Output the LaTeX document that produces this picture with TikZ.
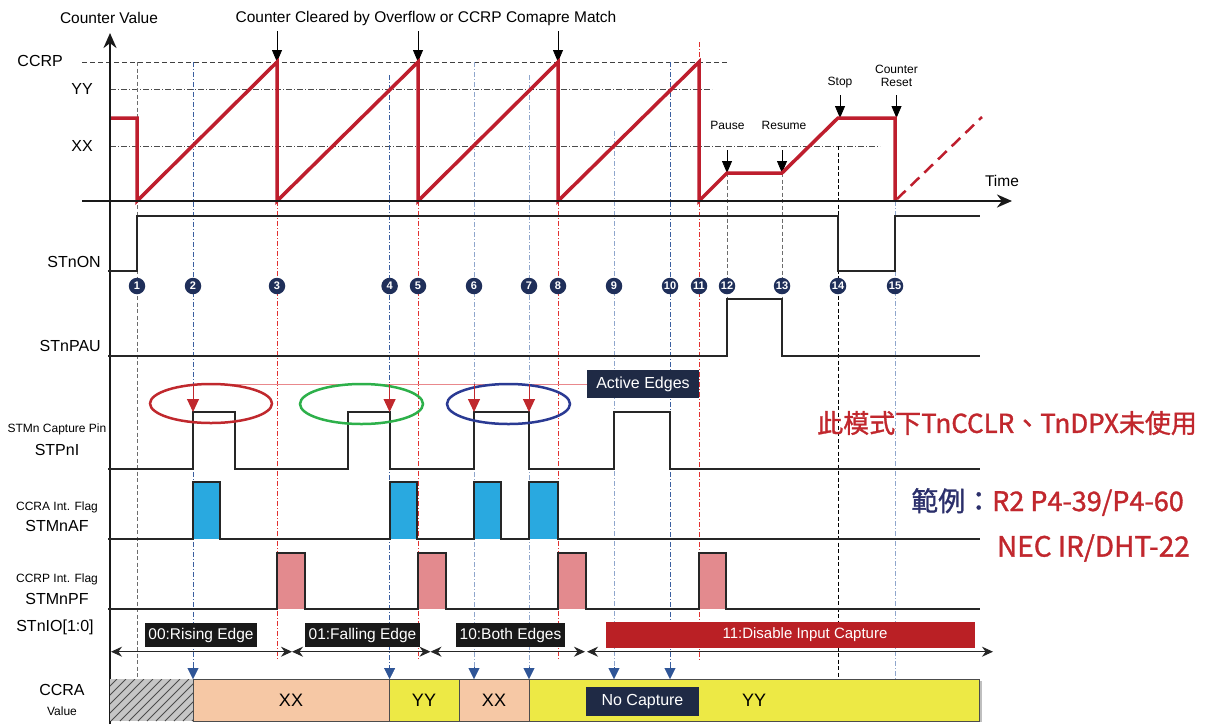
\documentclass[tikz,border=0pt]{standalone}
\usepackage{fontspec}
\setmainfont{Liberation Sans}
\newfontfamily\cjk{Noto Sans CJK TC}[FakeBold=1.2]
\usetikzlibrary{arrows.meta}
\definecolor{wred}{HTML}{BE1E2D}
\definecolor{dred}{HTML}{C1272D}
\definecolor{navyc}{HTML}{1F2F5A}
\definecolor{navyt}{HTML}{2B2F6B}
\definecolor{boxd}{HTML}{1F2A45}
\definecolor{bluef}{HTML}{29A9E0}
\definecolor{pinkf}{HTML}{E38A8E}
\definecolor{salm}{HTML}{F6C8A5}
\definecolor{yell}{HTML}{EDE945}
\definecolor{evbluec}{HTML}{3A5FA0}
\definecolor{evlblue}{HTML}{8FA6CC}
\definecolor{evredc}{HTML}{E0302F}
\definecolor{ellr}{HTML}{C0282D}
\definecolor{ellg}{HTML}{2DB04A}
\definecolor{ellb}{HTML}{2A3A93}
\definecolor{pinkl}{HTML}{E9888C}
\definecolor{boxred}{HTML}{BA2025}
\definecolor{arrblue}{HTML}{2F5597}
\tikzset{
  wave/.style={line width=3.5pt, wred, line join=miter},
  sig/.style={line width=2pt, black!85},
  axisl/.style={line width=2.5pt, black!90, -{Stealth[length=15pt,width=13pt]}},
  evgray/.style={dash pattern=on 4pt off 2.5pt, gray!85!black, line width=0.8pt},
  evblue/.style={dash pattern=on 5pt off 2pt on 1pt off 2pt, evbluec, line width=0.8pt},
  evlb/.style={dash pattern=on 5pt off 2pt on 1pt off 2pt, evlblue, line width=0.9pt},
  evred/.style={dash pattern=on 5pt off 2pt on 1pt off 2pt, evredc, line width=0.8pt},
  evblk/.style={dash pattern=on 4pt off 2.5pt, black, line width=0.8pt},
  lvl/.style={dash pattern=on 6pt off 2pt on 1pt off 2pt, black!70, line width=0.8pt},
  numc/.style={circle, fill=navyc, text=white, inner sep=0pt, minimum size=16.5pt, font=\fontsize{11}{11}\selectfont\bfseries},
  big/.style={font=\fontsize{16}{18}\selectfont, inner sep=0pt},
  small/.style={font=\fontsize{12}{14}\selectfont, inner sep=0pt},
  toptxt/.style={font=\fontsize{15.5}{18}\selectfont, inner sep=0pt},
  darr/.style={line width=0.8pt, -{Triangle[length=12pt,width=10pt]}},
  barr/.style={-{Triangle[length=11pt,width=11pt]}, arrblue},
  rarr/.style={line width=1pt, ellr, -{Triangle[length=13pt,width=12pt]}},
  modebox/.style={fill=black!90, text=white, inner sep=0pt, font=\fontsize{15.5}{18}\selectfont},
  io/.style={line width=1pt, black!85, {Stealth[length=11pt,width=10pt]}-{Stealth[length=11pt,width=10pt]}},
  cell/.style={draw=black!70, line width=0.8pt},
}
\begin{document}
\begin{tikzpicture}[x=1pt,y=-1pt]
\useasboundingbox (0,0) rectangle (1208,724);
\fill[white] (0,0) rectangle (1208,724);

% ---- level lines
\draw[dash pattern=on 5pt off 3pt, black!75, line width=0.8pt] (82,62) -- (728,62);
\draw[lvl] (110,89) -- (712,89);
\draw[lvl] (110,146) -- (880,146);

% ---- event lines
\draw[evgray] (137,62) -- (137,679);
\draw[evblue] (193,62) -- (193,670);
\draw[evred] (277,201) -- (277,660);
\draw[evblue] (389.6,75) -- (389.6,670);
\draw[evred] (418,201) -- (418,660);
\draw[evlb] (474,62) -- (474,670);
\draw[evlb] (529,75) -- (529,670);
\draw[evred] (558,201) -- (558,660);
\draw[evlb] (614,131) -- (614,670);
\draw[evblue] (670,62) -- (670,670);
\draw[evred] (699,42) -- (699,660);
\draw[evgray] (727,173) -- (727,299);
\draw[evgray] (782,173) -- (782,299);
\draw[evblk] (838,146) -- (838,679);
\draw[evlb] (895,201) -- (895,679);

% ---- labels left
\node[big, anchor=east] (lccrp) at (63,61) {CCRP};
\node[big, anchor=east] (lyy) at (93,89) {YY};
\node[big, anchor=east] (lxx) at (93,146) {XX};
\node[big, anchor=east] (lon) at (101,262) {STnON};
\node[big, anchor=east] (lpau) at (101,346) {STnPAU};
\node[small] (lcap) at (57,429) {STMn Capture Pin};
\node[big] (lpi) at (57,450) {STPnI};
\node[small] (laf1) at (57,507) {CCRA Int. Flag};
\node[big] (laf) at (57,526) {STMnAF};
\node[small] (lpf1) at (57,579) {CCRP Int. Flag};
\node[big] (lpf) at (57,599) {STMnPF};
\node[big] (lio) at (55,627) {STnIO[1:0]};
\node[big] (lccra) at (62,690) {CCRA};
\node[small] (lval) at (62,711) {Value};

% ---- top texts
\node[toptxt] (tcv) at (109,18) {Counter Value};
\node[toptxt] (tcc) at (426,18) {Counter Cleared by Overflow or CCRP Comapre Match};
\foreach \x in {277,418,558} \draw[darr] (\x,31) -- (\x,62);
\node[toptxt] (ttime) at (1002,181) {Time};
\node[small] (tpause) at (727.5,125) {Pause};
\node[small] (tres) at (784,125) {Resume};
\node[small] (tstop) at (840,83) {Stop};
\node[small, align=center] (treset) at (896.5,76) {Counter\\[-1pt]Reset};
\draw[darr] (727,150) -- (727,173);
\draw[darr] (782,150) -- (782,173);
\draw[darr] (840,95) -- (840,118);
\draw[darr] (896.5,95) -- (896.5,118);

% ---- counter waveform
\draw[wave] (110,118) -- (137,118) -- (137,201) -- (277,62) -- (277,201) -- (418,62) -- (418,201) -- (558,62) -- (558,201) -- (699,62) -- (699,201) -- (727,173) -- (782,173) -- (838,118) -- (895,118) -- (895,201);
\draw[wred, line width=2.5pt, dash pattern=on 12pt off 7pt] (897,199) -- (982,117);

% ---- axes
\draw[axisl] (110,724) -- (110,33);
\draw[axisl] (82,201) -- (1012,201);

% ---- digital signals
\draw[sig] (108,271) -- (137,271) -- (137,216) -- (838,216) -- (838,271) -- (895,271) -- (895,216) -- (980,216);
\draw[sig] (108,355.7) -- (727,355.7) -- (727,299) -- (782,299) -- (782,355.7) -- (980,355.7);
\draw[sig] (108,469) -- (193,469) -- (193,412) -- (235,412) -- (235,469) -- (348,469) -- (348,412) -- (389.6,412) -- (389.6,469) -- (474,469) -- (474,412) -- (529,412) -- (529,469) -- (614,469) -- (614,412) -- (670,412) -- (670,469) -- (980,469);
% AF
\foreach \a/\b in {193/220,389.6/417,474/500.6,529/557.6}
  \fill[bluef] (\a,482) rectangle (\b,539);
\draw[sig] (108,539) -- (193,539) -- (193,482) -- (220,482) -- (220,539) -- (389.6,539) -- (389.6,482) -- (417,482) -- (417,539) -- (474,539) -- (474,482) -- (500.6,482) -- (500.6,539) -- (529,539) -- (529,482) -- (557.6,482) -- (557.6,539) -- (980,539);
% PF
\foreach \a/\b in {277/305.4,418/445.8,558/585.5,699/726}
  \fill[pinkf] (\a,553) rectangle (\b,608.7);
\draw[sig] (108,608.7) -- (277,608.7) -- (277,553) -- (305.4,553) -- (305.4,608.7) -- (418,608.7) -- (418,553) -- (445.8,553) -- (445.8,608.7) -- (558,608.7) -- (558,553) -- (585.5,553) -- (585.5,608.7) -- (699,608.7) -- (699,553) -- (726,553) -- (726,608.7) -- (980,608.7);

% ---- numbered circles
\foreach \n/\x in {1/137,2/193,3/277,4/389.6,5/418,6/474,7/529,8/558,9/614,10/670,11/699,12/727,13/782,14/838,15/895}
  \node[numc] (c\n) at (\x,286) {\n};

% ---- ellipses and active edges
\draw[pinkl, line width=1pt] (193,384) -- (587,384);
\draw[ellr, line width=2.5pt] (211,403.5) ellipse [x radius=61, y radius=19.5];
\draw[ellg, line width=2.5pt] (361.5,404) ellipse [x radius=61.5, y radius=20];
\draw[ellb, line width=2.5pt] (508.5,404) ellipse [x radius=61.5, y radius=20];
\foreach \x in {193,389.6,474,529} \draw[rarr] (\x,384) -- (\x,412);
\node[fill=boxd, text=white, font=\fontsize{16}{18}\selectfont, minimum width=112.6pt, minimum height=28.3pt, inner sep=0pt] (act) at (643,384.2) {Active Edges};

% ---- STnIO row
\draw[io] (111,651.7) -- (292,651.7);
\draw[io] (292,651.7) -- (430.5,651.7);
\draw[io] (430.5,651.7) -- (585,651.7);
\draw[io] (587,651.7) -- (993,651.7);
\node[modebox, minimum width=112pt, minimum height=24.5pt] (m0) at (201,635) {00:Rising Edge};
\node[modebox, minimum width=115pt, minimum height=24.5pt] (m1) at (362.5,635) {01:Falling Edge};
\node[modebox, minimum width=109pt, minimum height=24.5pt] (m2) at (510.5,635) {10:Both Edges};
\fill[boxred] (606,622) rectangle (975,648);
\node[text=white, font=\fontsize{15}{18}\selectfont, inner sep=0pt] (m3) at (805,635) {11:Disable Input Capture};

% ---- CCRA row
\fill[gray!45] (110,679) rectangle (193,721);
\begin{scope}
\clip (110,679) rectangle (193,721);
\foreach \k in {0,...,14} \draw[black!70, line width=0.9pt] (66+\k*9,721) -- (108+\k*9,679);
\end{scope}
\draw[cell, fill=salm] (193,679) rectangle (389.6,721);
\draw[cell, fill=yell] (389.6,679) rectangle (459,721);
\draw[cell, fill=salm] (459,679) rectangle (529,721);
\draw[black!25, line width=1.5pt] (981,681) -- (981,722);
\draw[cell, fill=yell] (529,679) rectangle (979,721);
\node[font=\fontsize{18}{20}\selectfont] (v1) at (291,700) {XX};
\node[font=\fontsize{18}{20}\selectfont] (v2) at (424,700) {YY};
\node[font=\fontsize{18}{20}\selectfont] (v3) at (494,700) {XX};
\node[font=\fontsize{18}{20}\selectfont] (v4) at (754,700) {YY};
\node[fill=boxd, text=white, font=\fontsize{16}{18}\selectfont, minimum width=113pt, minimum height=29pt, inner sep=0pt] (nocap) at (642.5,701.5) {No Capture};
\foreach \x in {193,389.6,474,529,614,670}
  \draw[barr] (\x,667) -- (\x,679);

% ---- notes
\node[font=\cjk\fontsize{26}{28}\selectfont, text=dred, anchor=west, inner sep=0pt] (note1) at (817,423) {此模式下TnCCLR、TnDPX未使用};
\node[font=\cjk\fontsize{27}{28}\selectfont, text=dred, anchor=west, inner sep=0pt] (note2) at (911,502) {\textcolor{navyt}{範例：}R2 P4-39/P4-60};
\node[font=\cjk\fontsize{28}{30}\selectfont, text=dred, anchor=east, inner sep=0pt] (note3) at (1190,548) {NEC IR/DHT-22};
\end{tikzpicture}
\end{document}
